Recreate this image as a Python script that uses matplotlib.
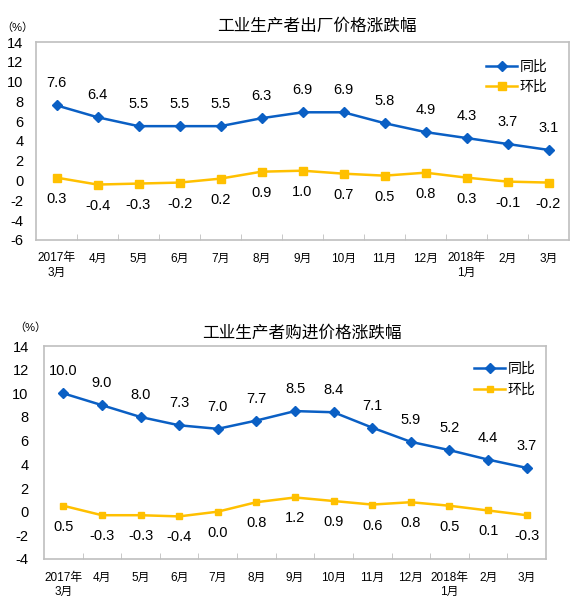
import matplotlib
matplotlib.use("Agg")
import matplotlib.pyplot as plt
import numpy as np

plt.rcParams['font.family'] = ['Liberation Sans', 'Noto Sans CJK SC', 'DejaVu Sans']
plt.rcParams['axes.unicode_minus'] = False

# ---- data ----
months = ['2017年\n3月', '4月', '5月', '6月', '7月', '8月', '9月', '10月',
          '11月', '12月', '2018年\n1月', '2月', '3月']

# 出厂价格
ppi_yoy = [7.6, 6.4, 5.5, 5.5, 5.5, 6.3, 6.9, 6.9, 5.8, 4.9, 4.3, 3.7, 3.1]
ppi_mom = [0.3, -0.4, -0.3, -0.2, 0.2, 0.9, 1.0, 0.7, 0.5, 0.8, 0.3, -0.1, -0.2]

# 购进价格
ppirm_yoy = [10.0, 9.0, 8.0, 7.3, 7.0, 7.7, 8.5, 8.4, 7.1, 5.9, 5.2, 4.4, 3.7]
ppirm_mom = [0.5, -0.3, -0.3, -0.4, 0.0, 0.8, 1.2, 0.9, 0.6, 0.8, 0.5, 0.1, -0.3]

blue = '#0A5FC4'
yellow = '#FFC000'
gray = '#BFBFBF'

W, H = 579, 611
fig = plt.figure(figsize=(W / 100, H / 100), dpi=100)


def make_chart(rect, yoy, mom, ylim, title, title_xy, pct_xy, leg_anchor,
               ms_blue, ms_yel, fs, pad):
    l, t, r, b = rect
    ax = fig.add_axes([l / W, 1 - b / H, (r - l) / W, (b - t) / H])
    x = np.arange(len(months))
    ax.plot(x, yoy, color=blue, lw=1.8, marker='D', ms=ms_blue, label='同比')
    ax.plot(x, mom, color=yellow, lw=1.8, marker='s', ms=ms_yel, label='环比')
    for xi, v in zip(x, yoy):
        ax.annotate(f'{v:.1f}', (xi, v), xytext=(0, 22), textcoords='offset pixels',
                    ha='center', va='center', fontsize=fs)
    for xi, v in zip(x, mom):
        ax.annotate(f'{v:.1f}', (xi, v), xytext=(0, -21), textcoords='offset pixels',
                    ha='center', va='center', fontsize=fs)
    ax.set_xlim(-0.5, len(months) - 0.5)
    ax.set_ylim(*ylim)
    ax.set_yticks(np.arange(ylim[0], ylim[1] + 1, 2))
    ax.set_xticks(x)
    ax.set_xticklabels(months, fontsize=8.5, linespacing=1.3)
    ax.set_xticks(np.arange(0.5, len(months) - 1, 1), minor=True)
    ax.tick_params(axis='x', which='major', length=0, pad=9)
    ax.tick_params(axis='x', which='minor', length=4, direction='in', color=gray)
    ax.tick_params(axis='y', length=0, pad=pad, labelsize=fs)
    for s in ax.spines.values():
        s.set_color(gray)
        s.set_linewidth(1.2)
    ax.legend(loc='upper right', bbox_to_anchor=leg_anchor, frameon=False,
              fontsize=fs - 0.5, handlelength=2.2, labelspacing=0.45,
              handletextpad=0.2, borderaxespad=0)
    fig.text(title_xy[0] / W, 1 - title_xy[1] / H, title, ha='center', va='center',
             fontsize=12)
    fig.text(pct_xy[0] / W, 1 - pct_xy[1] / H, '（%）', ha='center', va='center',
             fontsize=8)
    return ax


make_chart((36, 42, 569, 240), ppi_yoy, ppi_mom, (-6, 14),
           '工业生产者出厂价格涨跌幅', (317, 26), (17, 28), (0.97, 0.94),
           5, 5.2, 10.5, 9)
make_chart((44, 346, 546, 559), ppirm_yoy, ppirm_mom, (-4, 14),
           '工业生产者购进价格涨跌幅', (302, 333), (30, 328), (0.99, 0.95),
           4.8, 4, 10.5, 11)

fig.savefig('out.png', dpi=100)
